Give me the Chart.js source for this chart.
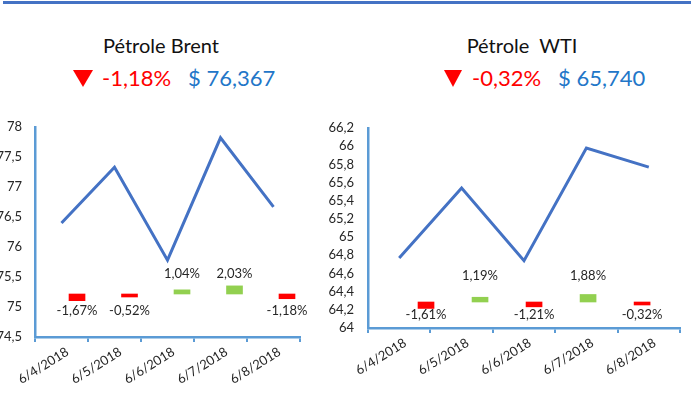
<!DOCTYPE html>
<html>
<head>
<meta charset="utf-8">
<script src="https://cdn.jsdelivr.net/npm/chart.js@4.4.1/dist/chart.umd.min.js"></script>
<style>
  html, body { margin: 0; padding: 0; background: #fff; }
  body { width: 691px; height: 406px; position: relative; overflow: hidden; font-family: Lato, 'Open Sans', sans-serif; }
  .topline { position: absolute; left: 3px; right: 0; top: 1px; height: 3px; background: #4472C4; }
  .title { position: absolute; width: 240px; text-align: center; font-size: 20px; line-height: 20px; color: #111; white-space: pre; }
  .pct, .price { position: absolute; font-size: 22px; line-height: 22px; white-space: pre; }
  .pct { color: #FF0000; }
  .price { color: #2276C8; }
  .down { position: absolute; width: 0; height: 0; border-top: 17px solid #FF0000; }
  .box { position: absolute; top: 100px; height: 306px; }
</style>
</head>
<body>
<div class="topline"></div>

<div class="title" style="left:41px; top:35px;">Pétrole Brent</div>
<div class="down" style="left:73px; top:70px; border-left:10px solid transparent; border-right:10px solid transparent;"></div>
<div class="pct" style="left:102px; top:67px;">-1,18%</div>
<div class="price" style="left:188px; top:67px;">$ 76,367</div>

<div class="title" style="left:402px; top:35px;">Pétrole  WTI</div>
<div class="down" style="left:444px; top:70px; border-left:9.5px solid transparent; border-right:9.5px solid transparent;"></div>
<div class="pct" style="left:472px; top:67px;">-0,32%</div>
<div class="price" style="left:558px; top:67px;">$ 65,740</div>

<div class="box" style="left:0; width:310px;"><canvas id="brent"></canvas></div>
<div class="box" style="left:320px; width:371px;"><canvas id="wti"></canvas></div>

<script>
'use strict';

const dates = ['6/4/2018', '6/5/2018', '6/6/2018', '6/7/2018', '6/8/2018'];

const brentPrice  = [76.40, 77.33, 75.78, 77.82, 76.67];
const brentChange = [-1.67, -0.52, 1.04, 2.03, -1.18];
const brentTicks  = [74.5, 75, 75.5, 76, 76.5, 77, 77.5, 78];

const wtiPrice  = [64.77, 65.54, 64.74, 65.98, 65.77];
const wtiChange = [-1.61, 1.19, -1.21, 1.88, -0.32];
const wtiTicks  = [64, 64.2, 64.4, 64.6, 64.8, 65, 65.2, 65.4, 65.6, 65.8, 66, 66.2];

const LINE_BLUE = '#4472C4';
const AXIS_BLUE = '#5B9BD5';
const UP_GREEN  = '#92D050';
const DOWN_RED  = '#FF0000';
const TEXT      = '#262626';

Chart.defaults.font.family = 'Lato, "Open Sans", sans-serif';
Chart.defaults.color = TEXT;

const fmtNum = v => String(+v.toFixed(1)).replace('.', ',');
const fmtPct = v => v.toFixed(2).replace('.', ',') + '%';

// draws the % labels above (gains) or below (losses) the little bars
const changeLabels = {
  id: 'changeLabels',
  afterDatasetsDraw(chart, args, opts) {
    const meta = chart.getDatasetMeta(1);
    const values = chart.data.datasets[1].data;
    const ctx = chart.ctx;
    ctx.save();
    ctx.font = '13px Lato, "Open Sans", sans-serif';
    ctx.fillStyle = TEXT;
    ctx.textAlign = 'center';
    ctx.textBaseline = 'middle';
    meta.data.forEach((bar, i) => {
      const v = values[i].y;
      const y = v >= 0 ? bar.base - opts.above : bar.base + opts.below;
      ctx.fillText(fmtPct(v), bar.x, y);
    });
    ctx.restore();
  }
};

function buildChart(canvasId, cfg) {
  const canvas = document.getElementById(canvasId);
  return new Chart(canvas, {
    type: 'line',
    data: {
      labels: dates,
      datasets: [{
        data: cfg.price,
        borderColor: LINE_BLUE,
        borderWidth: 3,
        pointRadius: 0,
        tension: 0,
        xAxisID: 'x',
        yAxisID: 'y',
        order: 0,
      }, {
        type: 'bar',
        data: cfg.change.map((v, i) => ({ x: i, y: v })),
        backgroundColor: cfg.change.map(v => v >= 0 ? UP_GREEN : DOWN_RED),
        barThickness: 16,
        minBarLength: 3,
        xAxisID: 'x2',
        yAxisID: 'y2',
        order: 1,
      }],
    },
    options: {
      responsive: true,
      maintainAspectRatio: false,
      animation: false,
      layout: { padding: cfg.padding },
      plugins: {
        legend: { display: false },
        tooltip: { enabled: false },
        changeLabels: cfg.labelOffsets,
      },
      scales: {
        x: {
          type: 'category',
          offset: true,
          grid: { offset: true, drawOnChartArea: false, drawTicks: true, tickLength: 5, color: AXIS_BLUE, lineWidth: 2 },
          border: { display: true, color: AXIS_BLUE, width: 2.5 },
          ticks: { minRotation: 32, maxRotation: 32, autoSkip: false, padding: 2, labelOffset: 6, font: { size: 13 }, color: TEXT },
          afterFit: s => { s.height = cfg.xHeight; },
        },
        y: {
          min: cfg.ticks[0],
          max: cfg.ticks[cfg.ticks.length - 1],
          afterBuildTicks: s => { s.ticks = cfg.ticks.map(v => ({ value: v })); },
          grid: { drawOnChartArea: false, drawTicks: false },
          border: { display: true, color: AXIS_BLUE, width: 2.5 },
          ticks: { autoSkip: false, padding: cfg.yPad, font: { size: 13 }, color: TEXT, callback: v => fmtNum(v) },
          afterFit: s => { s.width = cfg.yWidth; },
        },
        x2: { type: 'linear', display: false, offset: false, min: cfg.barRange[0], max: cfg.barRange[1] },
        y2: { type: 'linear', display: false, min: cfg.pctRange[0], max: cfg.pctRange[1] },
      },
    },
    plugins: [changeLabels],
  });
}

buildChart('brent', {
  price: brentPrice,
  change: brentChange,
  ticks: brentTicks,
  padding: { top: 27, right: 10, left: 0, bottom: 0 },
  yWidth: 35,
  yPad: 13,
  xHeight: 69,
  barRange: [-0.648, 4.4],
  pctRange: [-10.75, 41.75],
  labelOffsets: { above: 20, below: 17 },
});

buildChart('wti', {
  price: wtiPrice,
  change: wtiChange,
  ticks: wtiTicks,
  padding: { top: 28, right: 11, left: 0, bottom: 0 },
  yWidth: 48,
  yPad: 14,
  xHeight: 78,
  barRange: [-0.926, 4.85],
  pctRange: [-6.5, 43.5],
  labelOffsets: { above: 26, below: 13 },
});
</script>
</body>
</html>
